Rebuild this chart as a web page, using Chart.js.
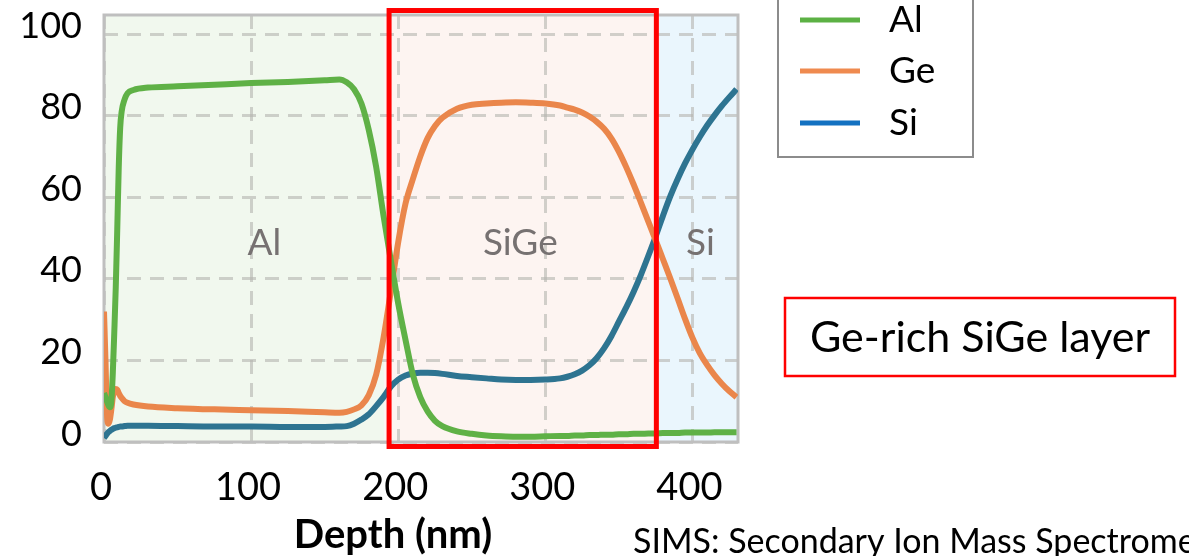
<!DOCTYPE html>
<html>
<head>
<meta charset="utf-8">
<script src="https://cdn.jsdelivr.net/npm/chart.js@4.4.1/dist/chart.umd.min.js"></script>
<style>
	body { margin: 0; background: #fff; }
	canvas { display: block; }
</style>
</head>
<body>
<canvas id="sims" width="1189" height="556"></canvas>
<script>
// depth profile (nm, %)
const depths = [0, 1, 2, 3, 4, 5, 6, 7, 8, 9, 10, 11, 12, 14, 16, 20, 30, 50, 75, 100, 125, 150,
	160, 165, 170, 175, 180, 185, 190, 195, 200, 205, 210, 215, 220, 225, 230,
	240, 250, 260, 270, 280, 290, 300, 310,
	315, 320, 325, 330, 335, 340, 345, 350, 355, 360, 365, 370, 375, 380, 385, 390, 395, 400, 405, 410, 415, 420, 425, 430];
const alValues = [12, 11, 10, 9, 8.5, 10, 17, 27, 38, 52, 67, 77, 81, 84, 85.5, 86.3, 86.9, 87.2, 87.6, 88, 88.3, 88.7,
	88.9, 88.2, 86.5, 83, 76.5, 67.5, 55.5, 44.5, 34, 25, 16.5, 11, 7.5, 5.2, 3.9,
	2.6, 2, 1.6, 1.4, 1.3, 1.3, 1.4, 1.5,
	1.5, 1.6, 1.6, 1.7, 1.7, 1.8, 1.8, 1.9, 1.9, 2, 2, 2.1, 2.1, 2.2, 2.2, 2.2, 2.3, 2.3, 2.3, 2.3, 2.4, 2.4, 2.4, 2.4];
const geValues = [32, 20, 7, 4.5, 5.5, 8, 11, 12.5, 13, 12.8, 12, 11.3, 10.8, 10, 9.6, 9.2, 8.7, 8.3, 8, 7.8, 7.6, 7.3,
	7.2, 7.4, 8, 9, 11.5, 16.5, 25.5, 37, 49, 58.5, 64.5, 70, 74.5, 77.5, 79.5,
	81.7, 82.7, 83, 83.2, 83.3, 83.2, 83, 82.5,
	82, 81.5, 80.8, 79.8, 78.5, 76.8, 74.4, 71.2, 67.4, 63.2, 58.7, 54.1, 49.5, 44.8, 40.1, 35.2, 30.2, 25.6, 21.8, 18.9, 16.4, 14.3, 12.5, 11];
const siValues = [1, 1.5, 2, 2.4, 2.7, 3, 3.2, 3.4, 3.5, 3.6, 3.7, 3.8, 3.8, 3.9, 4, 4, 4, 3.9, 3.8, 3.8, 3.7, 3.7,
	3.8, 3.9, 4.5, 5.5, 6.8, 8.8, 11, 13.6, 15.3, 16.3, 16.8, 17, 17, 16.9, 16.7,
	16.2, 15.9, 15.6, 15.3, 15.2, 15.2, 15.3, 15.6,
	16, 16.6, 17.5, 18.8, 20.6, 23, 26, 29.5, 33, 36.8, 41, 45.6, 50.4, 55.5, 60.3, 64.5, 68.3, 71.7, 74.8, 77.6, 80.1, 82.4, 84.5, 86.5];
const seriesNames = ['Al', 'Ge', 'Si'];
const xTicks = [0, 100, 200, 300, 400];
const yTicks = [0, 20, 40, 60, 80, 100];

// layer regions (depth ranges) and their labels
const layers = [
	{ name: 'Al', from: 0, to: 190.5, fill: '#f1f8ee', labelAt: 109 },
	{ name: 'SiGe', from: 190.5, to: 377, fill: '#fdf4f1', labelAt: 283 },
	{ name: 'Si', from: 377, to: 431, fill: '#eaf6fd', labelAt: 405.5 }
];
const highlight = { from: 193.8, to: 375.5, top: 105.8, bottom: -1.1 };

const FONT = 'Lato, "Open Sans", sans-serif';
const lineColors = ['#5fb146', '#ea864b', '#2e7491'];
const legendColors = ['#5cb144', '#ef8a4f', '#1371c1'];

function toPoints(values) {
	return depths.map((d, i) => ({ x: d, y: values[i] }));
}

const layersPlugin = {
	id: 'layers',
	beforeDraw(chart) {
		const { ctx, chartArea: area, scales: { x, y } } = chart;
		ctx.save();
		layers.forEach((l) => {
			const x1 = Math.max(x.getPixelForValue(l.from), area.left);
			const x2 = Math.min(x.getPixelForValue(l.to), area.right);
			ctx.fillStyle = l.fill;
			ctx.fillRect(x1, area.top, x2 - x1, area.bottom - area.top);
		});
		ctx.restore();
	},
	beforeDatasetsDraw(chart) {
		const { ctx, chartArea: area, scales: { x, y } } = chart;
		ctx.save();
		ctx.fillStyle = '#767171';
		ctx.font = '37px ' + FONT;
		ctx.textAlign = 'center';
		ctx.textBaseline = 'middle';
		layers.forEach((l) => {
			ctx.fillText(l.name, x.getPixelForValue(l.labelAt), y.getPixelForValue(48.8));
		});
		ctx.strokeStyle = '#bfbfbf';
		ctx.lineWidth = 3;
		ctx.strokeRect(area.left, area.top, area.right - area.left, area.bottom - area.top);
		ctx.restore();
	},
	afterDraw(chart) {
		const { ctx, scales: { x, y } } = chart;
		ctx.save();
		// red box marking the Ge-rich layer
		ctx.strokeStyle = '#ff0000';
		ctx.lineWidth = 5;
		const bx1 = x.getPixelForValue(highlight.from), bx2 = x.getPixelForValue(highlight.to);
		const by1 = y.getPixelForValue(highlight.top), by2 = y.getPixelForValue(highlight.bottom);
		ctx.strokeRect(bx1, by1, bx2 - bx1, by2 - by1);

		// legend
		ctx.strokeStyle = '#8c8c8c';
		ctx.lineWidth = 2;
		ctx.strokeRect(778, -5, 195, 162);
		ctx.font = '37px ' + FONT;
		ctx.textAlign = 'left';
		ctx.textBaseline = 'middle';
		const rows = [20, 71, 123];
		chart.data.datasets.forEach((ds, i) => {
			ctx.strokeStyle = legendColors[i];
			ctx.lineWidth = 5;
			ctx.beginPath();
			ctx.moveTo(800, rows[i]);
			ctx.lineTo(860, rows[i]);
			ctx.stroke();
			ctx.fillStyle = '#000';
			ctx.fillText(ds.label, 889, rows[i]);
		});

		// callout
		ctx.strokeStyle = '#ff0000';
		ctx.lineWidth = 2.5;
		ctx.strokeRect(785, 298, 390, 78);
		ctx.fillStyle = '#000';
		ctx.textAlign = 'center';
		ctx.font = '43px ' + FONT;
		ctx.fillText('Ge-rich SiGe layer', 980, 338);

		// axis title and footnote
		ctx.font = 'bold 40px ' + FONT;
		ctx.fillText('Depth (nm)', 393, 535);
		ctx.textAlign = 'left';
		ctx.textBaseline = 'alphabetic';
		ctx.font = '34px ' + FONT;
		ctx.fillText('SIMS: Secondary Ion Mass Spectrometry', 633, 553);
		ctx.restore();
	}
};

const gridStyle = {
	color: 'rgba(180, 180, 175, 0.6)',
	lineWidth: 3,
	drawTicks: false
};

function noEdgePadding(scale) {
	scale.paddingTop = 0;
	scale.paddingBottom = 0;
	scale.paddingLeft = 0;
	scale.paddingRight = 0;
}

new Chart(document.getElementById('sims'), {
	type: 'line',
	data: {
		datasets: [alValues, geValues, siValues].map((vals, i) => ({
			label: seriesNames[i],
			data: toPoints(vals),
			borderColor: lineColors[i],
			borderWidth: 6,
			pointRadius: 0,
			cubicInterpolationMode: 'monotone',
			fill: false
		}))
	},
	options: {
		responsive: false,
		animation: false,
		layout: { padding: { top: 15, right: 451, left: 0, bottom: 0 } },
		plugins: { legend: { display: false }, tooltip: { enabled: false } },
		scales: {
			x: {
				type: 'linear',
				min: 0,
				max: 431,
				afterBuildTicks: (scale) => { scale.ticks = xTicks.map((v) => ({ value: v })); },
				afterFit: (scale) => { scale.height = 114; noEdgePadding(scale); },
				grid: gridStyle,
				border: { display: false, dash: [14, 9] },
				ticks: { color: '#000', font: { family: FONT, size: 38 }, padding: 23, labelOffset: -3, maxRotation: 0 }
			},
			y: {
				min: 0,
				max: 104.7,
				afterBuildTicks: (scale) => { scale.ticks = yTicks.map((v) => ({ value: v })); },
				afterFit: (scale) => { scale.width = 104; noEdgePadding(scale); },
				grid: gridStyle,
				border: { display: false, dash: [14, 9] },
				ticks: { color: '#000', font: { family: FONT, size: 36 }, padding: 22, labelOffset: -8 }
			}
		}
	},
	plugins: [layersPlugin]
});
</script>
</body>
</html>
